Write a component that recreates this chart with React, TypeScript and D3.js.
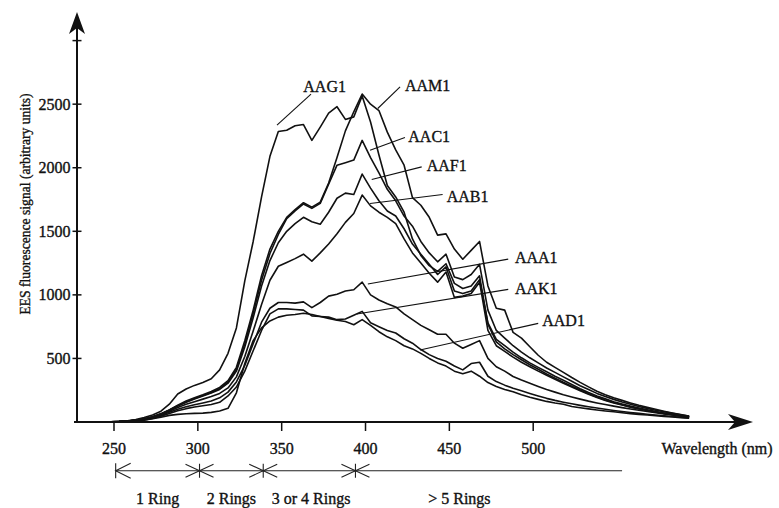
import { useEffect, useRef } from 'react';
import * as d3 from 'd3';

// wavelength grid (nm) the curves were read at
const wavelengths = [
  228, 233, 238, 243, 248, 253, 258, 263, 268, 273,
  278, 283, 288, 293, 298, 303, 308, 313, 318, 323,
  328, 333, 338, 343, 348, 353, 358, 363, 368, 373,
  378, 383, 388, 393, 398, 403, 408, 413, 418, 423,
  428, 433, 438, 443, 448, 453, 458, 463, 468, 473,
  478, 483, 488, 493, 498, 503, 508, 513, 518, 523,
  528, 533, 538, 543, 548, 553, 558, 563, 568, 573,
  578, 583, 588, 593,
];

const aag1 = [
  0, 0, 0, 1, 2, 5, 10, 20, 35, 55,
  85, 140, 220, 260, 288, 310, 340, 410, 540, 740,
  1110, 1420, 1770, 2090, 2285, 2295, 2330, 2340, 2215, 2320,
  2430, 2480, 2380, 2400, 2565, 2360, 2100, 1860, 1770, 1650,
  1440, 1310, 1230, 1185, 1245, 1090, 1050, 1070, 1150, 770,
  630, 575, 530, 490, 450, 415, 378, 345, 312, 282,
  252, 222, 196, 173, 153, 135, 118, 104, 90, 78,
  67, 57, 48, 40,
];

const aam1 = [
  0, 0, 0, 1, 2, 4, 8, 15, 25, 42,
  65, 95, 132, 165, 190, 214, 240, 272, 325, 430,
  640, 880, 1150, 1360, 1500, 1610, 1670, 1725, 1690, 1730,
  1880, 2080, 2290, 2440, 2580, 2500, 2450, 2280, 2140, 2020,
  1765, 1705, 1610, 1470, 1480, 1360, 1280, 1350, 1420, 1070,
  895, 880, 705, 660, 592, 525, 470, 430, 390, 350,
  312, 276, 242, 215, 190, 170, 150, 131, 115, 100,
  85, 71, 58, 45,
];

const aac1 = [
  0, 0, 0, 1, 2, 4, 8, 15, 25, 42,
  64, 94, 128, 158, 184, 208, 233, 262, 315, 415,
  615, 855, 1115, 1325, 1475, 1600, 1660, 1715, 1680, 1720,
  1870, 2020, 2040, 2060, 2215, 2080, 1960, 1830, 1740, 1620,
  1540, 1420, 1330, 1260, 1320, 1140, 1120, 1160, 1240, 880,
  720, 660, 600, 550, 505, 465, 425, 390, 355, 320,
  285, 255, 225, 200, 178, 158, 140, 122, 107, 93,
  80, 68, 57, 46,
];

const aaf1 = [
  0, 0, 0, 1, 2, 4, 8, 14, 24, 40,
  62, 92, 125, 155, 180, 204, 228, 256, 305, 400,
  590, 820, 1070, 1270, 1410, 1500, 1560, 1610, 1575, 1555,
  1650, 1760, 1800, 1790, 1950, 1840, 1740, 1660, 1620, 1520,
  1400, 1320, 1240, 1160, 1220, 1030, 1010, 1030, 1120, 780,
  650, 600, 550, 505, 465, 430, 395, 360, 328, 295,
  262, 232, 205, 182, 160, 142, 125, 110, 96, 83,
  71, 60, 50, 41,
];

const aab1 = [
  0, 0, 0, 1, 2, 4, 7, 13, 22, 38,
  58, 85, 114, 140, 160, 180, 200, 225, 268, 355,
  515, 715, 925, 1115, 1225, 1255, 1285, 1320, 1265, 1330,
  1400, 1480, 1570, 1640, 1785, 1700, 1650, 1610, 1560, 1440,
  1330, 1250, 1170, 1100, 1180, 980, 990, 1010, 1100, 720,
  600, 555, 510, 470, 435, 400, 368, 336, 305, 275,
  245, 218, 193, 170, 150, 133, 117, 103, 90, 78,
  67, 57, 48, 39,
];

const aaa1 = [
  0, 0, 0, 1, 2, 4, 7, 12, 20, 33,
  52, 76, 100, 120, 136, 150, 165, 190, 235, 315,
  445, 615, 785, 895, 940, 940, 935, 945, 900, 940,
  990, 1005, 1030, 1040, 1100, 1000, 960, 930, 905, 850,
  805, 760, 725, 690, 690, 620, 580, 610, 640, 500,
  435, 400, 358, 330, 305, 280, 255, 235, 215, 197,
  180, 164, 150, 137, 125, 113, 102, 92, 82, 73,
  64, 56, 48, 40,
];

const aak1 = [
  0, 0, 0, 1, 2, 3, 6, 10, 17, 28,
  45, 66, 88, 105, 118, 128, 138, 155, 205, 275,
  400, 560, 720, 850, 890, 890, 885, 880, 835, 830,
  825, 805, 810, 840, 870, 780, 750, 720, 700, 655,
  620, 570, 530, 500, 478, 440, 410, 460, 470, 360,
  318, 290, 265, 245, 225, 205, 186, 170, 156, 143,
  131, 120, 110, 100, 91, 83, 75, 68, 61, 55,
  49, 43, 37, 31,
];

const aad1 = [
  0, 0, 0, 1, 1, 3, 5, 9, 15, 25,
  38, 52, 60, 65, 68, 70, 76, 86, 108, 230,
  460, 640, 740, 795, 825, 840, 845, 855, 845, 830,
  815, 800, 790, 765, 805, 760, 710, 670, 640, 600,
  575, 540, 500, 465, 440, 400, 380, 400, 360, 310,
  280, 255, 238, 215, 195, 178, 162, 150, 140, 122,
  112, 103, 95, 87, 80, 73, 66, 60, 55, 49,
  44, 39, 34, 29,
];

const seriesNames = ['AAD1', 'AAK1', 'AAA1', 'AAB1', 'AAF1', 'AAC1', 'AAG1', 'AAM1'];
const seriesValues = [aad1, aak1, aaa1, aab1, aaf1, aac1, aag1, aam1];

const xTicks = [250, 300, 350, 400, 450, 500];
const yTicks = [500, 1000, 1500, 2000, 2500, 3000];
const yTickLabels = ['500', '1000', '1500', '2000', '2500', ''];

// ring-count bands along the wavelength axis
const ringEdges = [251, 301, 339, 394, 553];
const ringLabels = ['1 Ring', '2 Rings', '3 or 4 Rings', '> 5 Rings'];
const ringLabelAt = [276, 320, 367.5, 456];

// curve names with leader lines, in data units [nm, signal]
const callouts = [
  { name: 'AAG1', text: [362.9, 2594], from: [367.5, 2579], to: [347.2, 2335] },
  { name: 'AAM1', text: [423.5, 2606], from: [420.6, 2636], to: [407.3, 2466] },
  { name: 'AAC1', text: [425.5, 2201], from: [423.5, 2238], to: [402.7, 2138] },
  { name: 'AAF1', text: [436.5, 1973], from: [433.5, 2007], to: [403.7, 1908] },
  { name: 'AAB1', text: [448.4, 1734], from: [446.0, 1790], to: [402.7, 1719] },
  { name: 'AAA1', text: [489.1, 1252], from: [485.1, 1281], to: [401.4, 1085] },
  { name: 'AAK1', text: [489.1, 1008], from: [485.1, 1043], to: [394.9, 849] },
  { name: 'AAD1', text: [505.4, 759], from: [503.0, 776], to: [432.5, 566] },
];

const App = () => {
  const svgRef = useRef(null);

  useEffect(() => {
    const svg = d3.select(svgRef.current);
    svg.selectAll('*').remove();

    const width = 779;
    const height = 508;
    const ink = '#111';
    const font = "'Liberation Serif', 'Times New Roman', serif";

    const x = d3.scaleLinear().domain([250, 500]).range([114, 533.2]);
    const y = d3.scaleLinear().domain([0, 3000]).range([422, 40.6]);

    const axisX = 77;
    const axisY = y(0);
    const arrowRight = 753;
    const arrowTop = 12;

    svg.append('rect').attr('width', width).attr('height', height).attr('fill', '#fff');

    // curves
    const line = d3
      .line()
      .x((d) => x(d[0]))
      .y((d) => y(d[1]));

    seriesValues.forEach((vals, i) => {
      const pts = wavelengths.map((w, j) => [w, vals[j]]);
      svg
        .append('path')
        .attr('d', line(pts))
        .attr('fill', 'none')
        .attr('stroke', ink)
        .attr('stroke-width', 1.6)
        .attr('stroke-linejoin', 'round')
        .attr('data-name', seriesNames[i]);
    });

    // axes
    svg
      .append('line')
      .attr('x1', axisX - 3)
      .attr('x2', arrowRight - 12)
      .attr('y1', axisY)
      .attr('y2', axisY)
      .attr('stroke', ink)
      .attr('stroke-width', 2);
    svg
      .append('line')
      .attr('x1', axisX)
      .attr('x2', axisX)
      .attr('y1', axisY + 1)
      .attr('y2', arrowTop + 12)
      .attr('stroke', ink)
      .attr('stroke-width', 2);

    svg
      .append('path')
      .attr(
        'd',
        `M${arrowRight},${axisY} L${arrowRight - 25},${axisY - 8} L${arrowRight - 18},${axisY} L${arrowRight - 25},${axisY + 8} Z`
      )
      .attr('fill', ink);
    svg
      .append('path')
      .attr(
        'd',
        `M${axisX},${arrowTop} L${axisX - 8},${arrowTop + 22} L${axisX},${arrowTop + 16} L${axisX + 8},${arrowTop + 22} Z`
      )
      .attr('fill', ink);

    // x ticks
    const xt = svg.append('g');
    xTicks.forEach((t) => {
      xt.append('line')
        .attr('x1', x(t))
        .attr('x2', x(t))
        .attr('y1', axisY)
        .attr('y2', axisY + 9)
        .attr('stroke', ink)
        .attr('stroke-width', 1.5);
      xt.append('text')
        .attr('x', x(t))
        .attr('y', axisY + 31.5)
        .attr('text-anchor', 'middle')
        .text(t);
    });

    // y ticks
    const yt = svg.append('g');
    yTicks.forEach((t, i) => {
      yt.append('line')
        .attr('x1', axisX - 4.5)
        .attr('x2', axisX + 4.5)
        .attr('y1', y(t))
        .attr('y2', y(t))
        .attr('stroke', ink)
        .attr('stroke-width', 1.5);
      yt.append('text')
        .attr('x', axisX - 6.5)
        .attr('y', y(t) + 5.4)
        .attr('text-anchor', 'end')
        .text(yTickLabels[i]);
    });

    svg
      .append('text')
      .attr('x', 661.5)
      .attr('y', axisY + 31.5)
      .text('Wavelength (nm)');

    svg
      .append('text')
      .attr('transform', 'translate(30,204) rotate(-90)')
      .attr('text-anchor', 'middle')
      .attr('font-size', 13.6)
      .text('EES fluorescence signal (arbitrary units)');

    // ring bands
    const ringY = 470.7;
    const rings = svg.append('g').attr('stroke', '#222').attr('stroke-width', 1.1);
    const r0 = x(ringEdges[0]);
    rings
      .append('line')
      .attr('x1', r0)
      .attr('x2', x(ringEdges[ringEdges.length - 1]))
      .attr('y1', ringY)
      .attr('y2', ringY);
    rings
      .append('path')
      .attr('fill', 'none')
      .attr('d', `M${r0 + 15},${ringY - 7.5} L${r0},${ringY} L${r0 + 15},${ringY + 7.5} M${r0},${ringY - 7.5} L${r0},${ringY + 7.5}`);
    ringEdges.slice(1, -1).forEach((e) => {
      const cx = x(e);
      rings
        .append('path')
        .attr('fill', 'none')
        .attr(
          'd',
          `M${cx - 14},${ringY - 6.5} L${cx + 14},${ringY + 6.5} M${cx - 14},${ringY + 6.5} L${cx + 14},${ringY - 6.5} M${cx},${ringY - 7} L${cx},${ringY + 7}`
        );
    });
    ringLabels.forEach((lab, i) => {
      svg
        .append('text')
        .attr('x', x(ringLabelAt[i]))
        .attr('y', 503.5)
        .attr('text-anchor', 'middle')
        .text(lab);
    });

    // callouts
    callouts.forEach((c) => {
      svg
        .append('line')
        .attr('x1', x(c.from[0]))
        .attr('y1', y(c.from[1]))
        .attr('x2', x(c.to[0]))
        .attr('y2', y(c.to[1]))
        .attr('stroke', ink)
        .attr('stroke-width', 1.1);
      svg
        .append('text')
        .attr('x', x(c.text[0]))
        .attr('y', y(c.text[1]))
        .text(c.name);
    });

    svg
      .selectAll('text')
      .attr('font-family', font)
      .attr('fill', ink)
      .attr('stroke', ink)
      .attr('stroke-width', 0.35)
      .each(function () {
        const el = d3.select(this);
        if (!el.attr('font-size')) el.attr('font-size', 16);
      });
  }, []);

  return (
    <svg
      ref={svgRef}
      width="779"
      height="508"
      style={{ position: 'absolute', left: 0, top: 0, display: 'block' }}
    ></svg>
  );
};

export default App;
